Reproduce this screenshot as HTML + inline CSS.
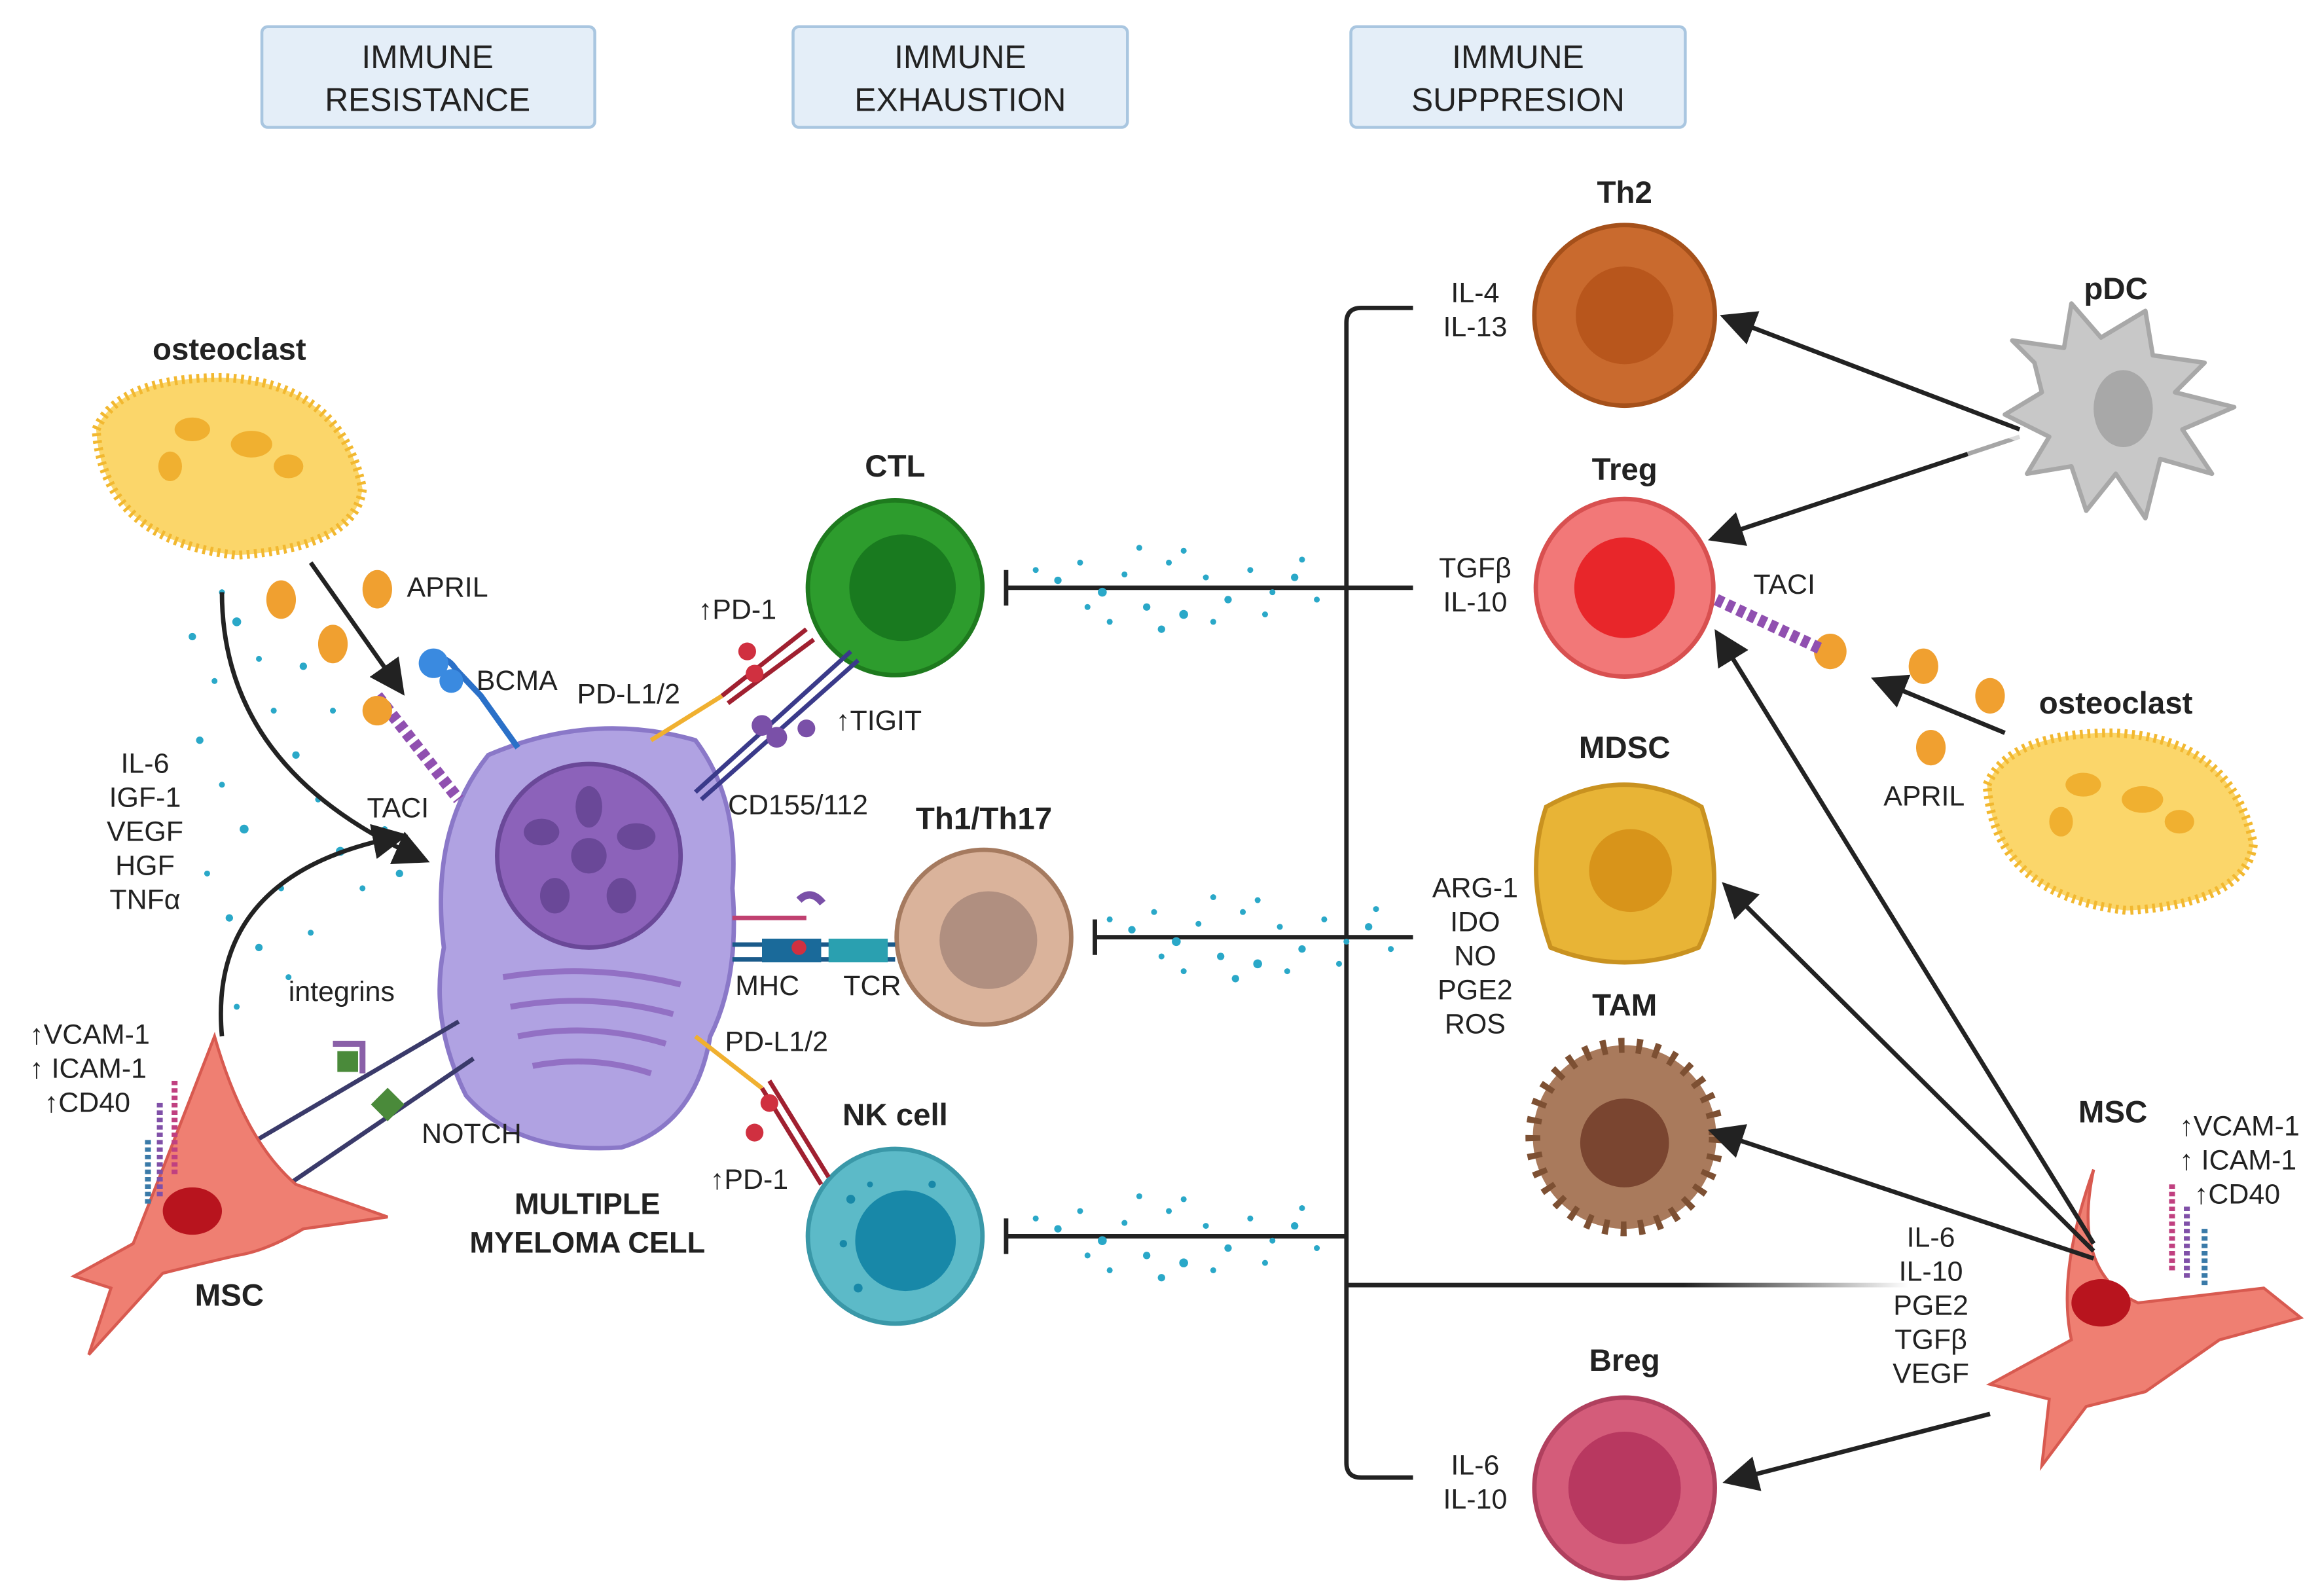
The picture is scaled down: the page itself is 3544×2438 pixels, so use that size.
<!DOCTYPE html>
<html><head><meta charset="utf-8"><style>
html,body{margin:0;padding:0;background:#fff;}
svg{display:block;}
text{font-family:"Liberation Sans",sans-serif;fill:#222;}
.b{font-weight:bold;}
</style></head><body>
<svg width="3544" height="2438" viewBox="0 0 1568 1078" preserveAspectRatio="none" xmlns="http://www.w3.org/2000/svg">
<defs>
<marker id="ah" markerWidth="8" markerHeight="8" refX="6" refY="4" orient="auto" markerUnits="strokeWidth"><path d="M0,0 L8,4 L0,8 Z" fill="#222"/></marker>
<linearGradient id="fadeL" gradientUnits="userSpaceOnUse" x1="910" y1="0" x2="1290" y2="0"><stop offset="0" stop-color="#222"/><stop offset="0.6" stop-color="#222"/><stop offset="1" stop-color="#222" stop-opacity="0"/></linearGradient>
</defs>
<rect width="1568" height="1078" fill="#fff"/>
<g font-size="22" text-anchor="middle">
<rect x="177" y="18" width="225" height="68" rx="4" fill="#e4eef8" stroke="#a9c6e0" stroke-width="2"/>
<text x="289" y="46">IMMUNE</text><text x="289" y="75">RESISTANCE</text>
<rect x="536" y="18" width="226" height="68" rx="4" fill="#e4eef8" stroke="#a9c6e0" stroke-width="2"/>
<text x="649" y="46">IMMUNE</text><text x="649" y="75">EXHAUSTION</text>
<rect x="913" y="18" width="226" height="68" rx="4" fill="#e4eef8" stroke="#a9c6e0" stroke-width="2"/>
<text x="1026" y="46">IMMUNE</text><text x="1026" y="75">SUPPRESION</text>
</g>
<g stroke="#222" stroke-width="3" fill="none">
<path d="M955,208 L920,208 Q910,208 910,218 L910,988 Q910,998 920,998 L955,998"/>
<line x1="910" y1="397" x2="955" y2="397"/>
<line x1="910" y1="633" x2="955" y2="633"/>
<line x1="680" y1="397" x2="910" y2="397"/>
<line x1="680" y1="385" x2="680" y2="409"/>
<line x1="740" y1="633" x2="910" y2="633"/>
<line x1="740" y1="621" x2="740" y2="645"/>
<line x1="680" y1="835" x2="910" y2="835"/>
<line x1="680" y1="823" x2="680" y2="847"/>
</g>
<line x1="910" y1="868" x2="1290" y2="868" stroke="url(#fadeL)" stroke-width="3"/>
<g fill="#2aa8c8">
<g id="dots">
<circle cx="700" cy="385" r="2"/><circle cx="715" cy="392" r="2.5"/><circle cx="730" cy="380" r="2"/><circle cx="745" cy="400" r="3"/><circle cx="760" cy="388" r="2"/><circle cx="775" cy="410" r="2.5"/><circle cx="790" cy="380" r="2"/><circle cx="800" cy="415" r="3"/><circle cx="815" cy="390" r="2"/><circle cx="830" cy="405" r="2.5"/><circle cx="845" cy="385" r="2"/><circle cx="860" cy="400" r="2"/><circle cx="875" cy="390" r="2.5"/><circle cx="890" cy="405" r="2"/><circle cx="770" cy="370" r="2"/><circle cx="800" cy="372" r="2"/><circle cx="820" cy="420" r="2"/><circle cx="750" cy="420" r="2"/><circle cx="785" cy="425" r="2.5"/><circle cx="735" cy="410" r="2"/><circle cx="855" cy="415" r="2"/><circle cx="880" cy="378" r="2"/>
</g>
<use href="#dots" y="236" x="50"/>
<use href="#dots" y="438"/>
<circle cx="130" cy="430" r="2.5"/><circle cx="145" cy="460" r="2"/><circle cx="160" cy="420" r="3"/><circle cx="175" cy="445" r="2"/><circle cx="135" cy="500" r="2.5"/><circle cx="150" cy="530" r="2"/><circle cx="165" cy="560" r="3"/><circle cx="140" cy="590" r="2"/><circle cx="155" cy="620" r="2.5"/><circle cx="185" cy="480" r="2"/><circle cx="200" cy="510" r="2.5"/><circle cx="215" cy="540" r="2"/><circle cx="230" cy="575" r="3"/><circle cx="245" cy="600" r="2"/><circle cx="190" cy="600" r="2"/><circle cx="175" cy="640" r="2.5"/><circle cx="210" cy="630" r="2"/><circle cx="260" cy="560" r="2"/><circle cx="270" cy="590" r="2.5"/><circle cx="195" cy="660" r="2"/><circle cx="160" cy="680" r="2"/><circle cx="225" cy="480" r="2"/><circle cx="205" cy="450" r="2.5"/><circle cx="150" cy="400" r="2"/>
</g>
<text x="1098" y="137" font-size="21" class="b" text-anchor="middle">Th2</text>
<circle cx="1098" cy="213" r="61" fill="#c96a2e" stroke="#a5501a" stroke-width="3"/><circle cx="1098" cy="213" r="33" fill="#b8561c"/>
<text x="1098" y="324" font-size="21" class="b" text-anchor="middle">Treg</text>
<circle cx="1098" cy="397" r="60" fill="#f27878" stroke="#d85050" stroke-width="3"/><circle cx="1098" cy="397" r="34" fill="#e8262a"/>
<text x="1098" y="512" font-size="21" class="b" text-anchor="middle">MDSC</text>
<path d="M1045,545 Q1098,515 1150,545 Q1168,600 1148,640 Q1098,660 1048,640 Q1030,590 1045,545Z" fill="#e8b436" stroke="#c99220" stroke-width="3"/><circle cx="1102" cy="588" r="28" fill="#d8941a"/>
<text x="1098" y="686" font-size="21" class="b" text-anchor="middle">TAM</text>
<circle cx="1098" cy="768" r="62" fill="#a97a5c" stroke="#7d5033" stroke-width="10" stroke-dasharray="4 8"/><circle cx="1098" cy="768" r="56" fill="#a97a5c"/><circle cx="1098" cy="772" r="30" fill="#7a4530"/>
<text x="1098" y="926" font-size="21" class="b" text-anchor="middle">Breg</text>
<circle cx="1098" cy="1005" r="61" fill="#d45c7a" stroke="#b0405e" stroke-width="3"/><circle cx="1098" cy="1005" r="38" fill="#b83860"/>
<text x="605" y="322" font-size="21" class="b" text-anchor="middle">CTL</text>
<circle cx="605" cy="397" r="59" fill="#2d9c2d" stroke="#1e7a1e" stroke-width="3"/><circle cx="610" cy="397" r="36" fill="#197a1f"/>
<text x="665" y="560" font-size="21" class="b" text-anchor="middle">Th1/Th17</text>
<circle cx="665" cy="633" r="59" fill="#dab39b" stroke="#a57a5f" stroke-width="3"/><circle cx="668" cy="635" r="33" fill="#b08f80"/>
<text x="605" y="760" font-size="21" class="b" text-anchor="middle">NK cell</text>
<circle cx="605" cy="835" r="59" fill="#5cbac8" stroke="#3a98a8" stroke-width="3"/><circle cx="612" cy="838" r="34" fill="#1888a8"/>
<circle cx="575" cy="810" r="3" fill="#1888a8"/><circle cx="588" cy="800" r="2" fill="#1888a8"/><circle cx="570" cy="840" r="2.5" fill="#1888a8"/><circle cx="580" cy="870" r="3" fill="#1888a8"/><circle cx="630" cy="800" r="2.5" fill="#1888a8"/>
<path d="M330,510 Q400,480 470,500 Q500,540 495,600 Q500,660 480,700 Q470,760 420,775 Q350,780 315,740 Q290,690 300,640 Q290,560 330,510Z" fill="#b0a2e2" stroke="#8a78c8" stroke-width="3"/>
<circle cx="398" cy="578" r="62" fill="#8c62ba" stroke="#6a4898" stroke-width="3"/>
<circle cx="398" cy="578" r="12" fill="#6a4898"/>
<g fill="#6a4898"><ellipse cx="398" cy="545" rx="9" ry="14"/><ellipse cx="430" cy="565" rx="13" ry="9"/><ellipse cx="420" cy="605" rx="10" ry="12"/><ellipse cx="375" cy="605" rx="10" ry="12"/><ellipse cx="366" cy="562" rx="12" ry="9"/></g>
<g stroke="#9270c4" stroke-width="4" fill="none"><path d="M340,660 Q400,650 460,665"/><path d="M345,680 Q400,670 455,685"/><path d="M350,700 Q400,690 450,705"/><path d="M360,720 Q400,712 440,725"/></g>
<text x="397" y="820" font-size="20" class="b" text-anchor="middle">MULTIPLE</text>
<text x="397" y="846" font-size="20" class="b" text-anchor="middle">MYELOMA CELL</text>
<g stroke-width="3" fill="none">
<path d="M440,500 L488,470" stroke="#f0b030"/><path d="M488,470 L545,425" stroke="#a02030"/><path d="M492,475 L550,432" stroke="#a02030"/>
<path d="M470,535 L575,440 M474,540 L580,446" stroke="#3a3a8a"/>
<path d="M495,620 L545,620" stroke="#c04070"/><path d="M495,638 L605,638 M495,648 L605,648" stroke="#1a5a8a"/>
<path d="M470,700 L515,735" stroke="#f0b030"/><path d="M515,735 L555,800 M520,730 L560,795" stroke="#a02030"/>
<path d="M165,775 L310,690 M195,800 L320,715" stroke="#3a3a6a"/>
</g>
<g fill="#d03040"><circle cx="505" cy="440" r="6"/><circle cx="510" cy="455" r="6"/><circle cx="520" cy="745" r="6"/><circle cx="510" cy="765" r="6"/></g>
<g fill="#7a50a8"><circle cx="515" cy="490" r="7"/><circle cx="525" cy="498" r="7"/><circle cx="545" cy="492" r="6"/><path d="M540,608 Q548,600 556,610" stroke="#7a50a8" stroke-width="5" fill="none"/></g>
<rect x="515" y="634" width="40" height="16" fill="#1a6a9a"/><rect x="560" y="634" width="40" height="16" fill="#2aa0b0"/><circle cx="540" cy="640" r="5" fill="#d03040"/>
<rect x="228" y="710" width="14" height="14" fill="#4a8a3a"/><path d="M225,705 L245,705 L245,725" stroke="#8a60a8" stroke-width="4" fill="none"/>
<rect x="254" y="738" width="16" height="16" fill="#4a8a3a" transform="rotate(45 262 746)"/>
<path d="M290,448 Q300,440 308,452 L325,470 L350,505" stroke="#2a70c8" stroke-width="4" fill="none"/><circle cx="293" cy="448" r="10" fill="#3a8ae0"/><circle cx="305" cy="460" r="8" fill="#3a8ae0"/>
<path d="M255,470 L310,540" stroke="#9050b0" stroke-width="8" fill="none" stroke-dasharray="5 3"/><circle cx="255" cy="480" r="10" fill="#f0a030"/>
<g fill="#f0a030"><ellipse cx="190" cy="405" rx="10" ry="13"/><ellipse cx="255" cy="398" rx="10" ry="13"/><ellipse cx="225" cy="435" rx="10" ry="13"/><ellipse cx="1300" cy="450" rx="10" ry="12"/><ellipse cx="1345" cy="470" rx="10" ry="12"/><ellipse cx="1305" cy="505" rx="10" ry="12"/><ellipse cx="1237" cy="440" rx="11" ry="12"/></g>
<path d="M1160,405 L1230,438" stroke="#9050b0" stroke-width="8" fill="none" stroke-dasharray="5 3"/>
<g font-size="19">
<text x="275" y="403">APRIL</text><text x="322" y="466">BCMA</text><text x="248" y="552">TACI</text>
<text x="390" y="475">PD-L1/2</text><text x="472" y="418">↑PD-1</text><text x="565" y="493">↑TIGIT</text>
<text x="492" y="550">CD155/112</text><text x="497" y="672">MHC</text><text x="570" y="672">TCR</text>
<text x="490" y="710">PD-L1/2</text><text x="480" y="803">↑PD-1</text>
<text x="195" y="676">integrins</text><text x="285" y="772">NOTCH</text>
<g text-anchor="middle"><text x="98" y="522">IL-6</text><text x="98" y="545">IGF-1</text><text x="98" y="568">VEGF</text><text x="98" y="591">HGF</text><text x="98" y="614">TNFα</text></g>
<text x="20" y="705">↑VCAM-1</text><text x="20" y="728">↑ ICAM-1</text><text x="30" y="751">↑CD40</text>
<g text-anchor="middle">
<text x="997" y="204">IL-4</text><text x="997" y="227">IL-13</text>
<text x="997" y="390">TGFβ</text><text x="997" y="413">IL-10</text>
<text x="997" y="606">ARG-1</text><text x="997" y="629">IDO</text><text x="997" y="652">NO</text><text x="997" y="675">PGE2</text><text x="997" y="698">ROS</text>
<text x="997" y="996">IL-6</text><text x="997" y="1019">IL-10</text>
<text x="1305" y="842">IL-6</text><text x="1305" y="865">IL-10</text><text x="1305" y="888">PGE2</text><text x="1305" y="911">TGFβ</text><text x="1305" y="934">VEGF</text>
</g>
<text x="1185" y="401">TACI</text><text x="1273" y="544">APRIL</text>
<text x="1473" y="767">↑VCAM-1</text><text x="1473" y="790">↑ ICAM-1</text><text x="1483" y="813">↑CD40</text>
</g>
<text x="155" y="243" font-size="21" class="b" text-anchor="middle">osteoclast</text>
<text x="1430" y="482" font-size="21" class="b" text-anchor="middle">osteoclast</text>
<text x="1430" y="202" font-size="21" class="b" text-anchor="middle">pDC</text>
<text x="1428" y="758" font-size="21" class="b" text-anchor="middle">MSC</text>
<g id="oc"><path d="M65,290 Q80,255 150,255 Q230,258 245,330 Q240,370 160,375 Q70,365 65,290Z" fill="#fbd66a" stroke="#f2b830" stroke-width="6" stroke-dasharray="2 3"/>
<ellipse cx="130" cy="290" rx="12" ry="8" fill="#f0b030"/><ellipse cx="170" cy="300" rx="14" ry="9" fill="#f0b030"/><ellipse cx="195" cy="315" rx="10" ry="8" fill="#f0b030"/><ellipse cx="115" cy="315" rx="8" ry="10" fill="#f0b030"/></g>
<use href="#oc" x="1278" y="240"/>
<path d="M1375,245 L1360,230 L1395,235 L1400,205 L1420,228 L1450,210 L1455,240 L1490,245 L1470,265 L1510,275 L1475,290 L1495,320 L1460,310 L1450,350 L1430,320 L1410,345 L1400,315 L1370,320 L1385,295 L1355,280 L1380,265Z" fill="#c8c8c8" stroke="#a8a8a8" stroke-width="3" stroke-linejoin="round"/>
<ellipse cx="1435" cy="276" rx="20" ry="26" fill="#a8a8a8"/>
<!-- left MSC -->
<path d="M145,700 Q165,770 200,800 L262,822 L205,830 Q180,845 160,848 Q130,855 110,860 L60,915 L75,870 L50,862 L90,840 Q110,790 145,700Z" fill="#ef7f72" stroke="#d85a50" stroke-width="2"/>
<ellipse cx="130" cy="818" rx="20" ry="16" fill="#b8141e"/>
<text x="155" y="882" font-size="21" class="b" text-anchor="middle">MSC</text>
<path d="M1415,790 Q1400,860 1445,880 L1530,870 L1555,890 L1500,905 L1450,940 L1410,950 L1380,990 L1385,945 L1345,935 L1400,905 Q1390,860 1415,790Z" fill="#ef7f72" stroke="#d85a50" stroke-width="2"/>
<ellipse cx="1420" cy="880" rx="20" ry="16" fill="#b8141e"/>
<g stroke-width="4" stroke-dasharray="3 2"><line x1="100" y1="770" x2="100" y2="815" stroke="#3a7aa8"/><line x1="108" y1="745" x2="108" y2="810" stroke="#8050a8"/><line x1="118" y1="730" x2="118" y2="795" stroke="#c04080"/>
<line x1="1468" y1="800" x2="1468" y2="860" stroke="#c04080"/><line x1="1478" y1="815" x2="1478" y2="865" stroke="#8050a8"/><line x1="1490" y1="830" x2="1490" y2="870" stroke="#3a7aa8"/></g>
<g stroke="#222" stroke-width="3" fill="none" marker-end="url(#ah)">
<path d="M1365,290 L1168,215"/><path d="M1365,295 L1160,363"/>
<path d="M1355,495 L1270,460"/>
<path d="M1415,840 L1162,430"/><path d="M1415,845 L1168,600"/><path d="M1415,850 L1160,765"/><path d="M1345,955 L1170,1000"/>
<path d="M150,400 Q150,520 285,580"/><path d="M150,700 Q140,590 270,565"/><path d="M210,380 L270,465"/>
</g>
<!-- fades at pDC end -->
<line x1="1330" y1="283" x2="1370" y2="298" stroke="#fff" stroke-width="5" opacity="0.6"/>
<line x1="1330" y1="307" x2="1370" y2="293" stroke="#fff" stroke-width="5" opacity="0.6"/>
</svg>
</body></html>
